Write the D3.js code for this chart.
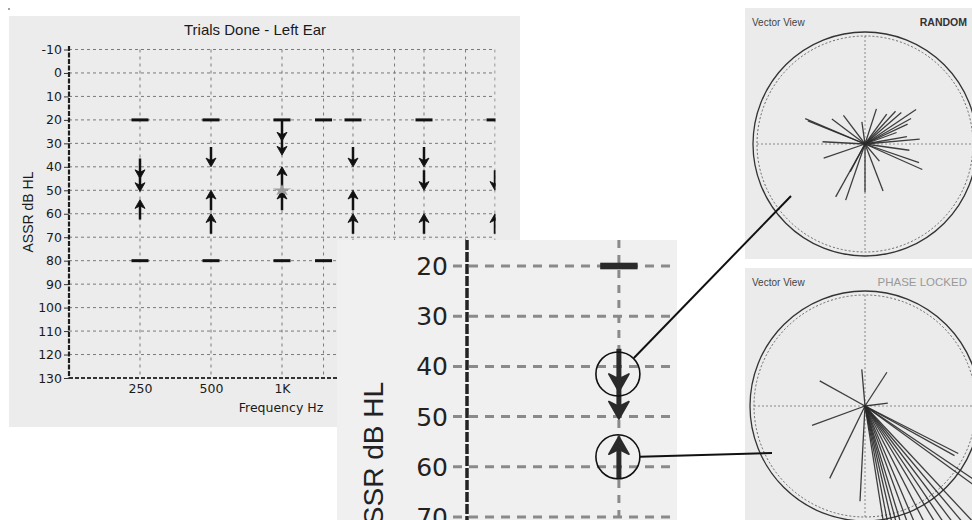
<!DOCTYPE html>
<html><head><meta charset="utf-8">
<script src="https://cdn.jsdelivr.net/npm/d3@7"></script>
<style>body{margin:0;background:#fff}svg{display:block}</style>
</head><body>
<svg id="c" width="972" height="520"></svg>
<script>
// ---------- data ----------
const gridFreqs = [250, 500, 1000, 1500, 2000, 3000, 4000, 6000, 8000];
const tickFreqs = [250, 500, 1000, 2000, 4000, 8000];
const tickLabels = ["250", "500", "1K", "2K", "4K", "8K"];
const yTicks = [-10, 0, 10, 20, 30, 40, 50, 60, 70, 80, 90, 100, 110, 120, 130];
const testedFreqs = [250, 500, 1000, 1500, 2000, 4000, 8000];
const minLevel = 20, maxLevel = 80;
const downFreq  = [250, 250, 500, 1000, 1000, 2000, 4000, 4000, 8000];
const downLevel = [45, 50.5, 40, 29, 35, 40, 40, 50, 50];
const upFreq  = [250, 500, 500, 1000, 1000, 2000, 2000, 4000, 8000];
const upLevel = [54, 50, 60, 40, 50, 50, 60, 60, 60];
const thrFreq = [1000], thrLevel = [50];
const insetTicks = [20, 30, 40, 50, 60, 70];
const randomPhase = [157,158,143,127,98,72,54,47,41,34,29,25,10,5,177,199,241,251,270,291,336,341,352,20,242,310];
const randomMag   = [0.58,0.55,0.37,0.32,0.20,0.33,0.33,0.40,0.43,0.55,0.47,0.42,0.38,0.49,0.38,0.39,0.54,0.53,0.43,0.45,0.56,0.51,0.40,0.30,0.28,0.20];
const lockedPhase = [151,95,57,7,200,244,267,333,331,279,281,283,285,287,290,293,297,301,304,307,310,313,324,326];
const lockedMag   = [0.45,0.32,0.35,0.20,0.49,0.70,0.83,0.91,0.89,1.4,1.4,1.4,1.4,1.4,1.4,1.4,1.4,1.4,1.4,1.4,1.4,1.4,1.4,1.4];

// ---------- setup ----------
const svg = d3.select("#c");
const defs = svg.append("defs");
const tickFont = "DejaVu Sans, Verdana, sans-serif";
const arial = "Liberation Sans, Arial, sans-serif";

function arrow(g, x, yTip, yTail, s, color) {
  const dir = yTip > yTail ? 1 : -1; // 1 = pointing down
  g.append("line").attr("x1", x).attr("x2", x)
    .attr("y1", yTail).attr("y2", yTip - dir * 3 * s)
    .attr("stroke", color).attr("stroke-width", 2 * s);
  g.append("path").attr("d",
    `M${x},${yTip} L${x - 4 * s},${yTip - dir * 7 * s} L${x},${yTip - dir * 5 * s} L${x + 4 * s},${yTip - dir * 7 * s} Z`)
    .attr("fill", color).attr("stroke", color).attr("stroke-width", 0.7 * s).attr("stroke-linejoin", "round");
}

function drawAudiogram(g, x, y, s, opt) {
  const [x0, x1] = opt.xr, [y0, y1] = opt.yr;
  const ticks = opt.ticks;
  g.selectAll(null).data(ticks).join("line")
    .attr("x1", opt.gridStart).attr("x2", x1).attr("y1", d => y(d)).attr("y2", d => y(d))
    .attr("stroke", opt.gridColor).attr("stroke-width", opt.gridW).attr("stroke-dasharray", opt.hDash);
  g.selectAll(null).data(gridFreqs).join("line")
    .attr("x1", d => x(d)).attr("x2", d => x(d)).attr("y1", y0).attr("y2", y1)
    .attr("stroke", opt.gridColor).attr("stroke-width", opt.gridW).attr("stroke-dasharray", opt.vDash);
  [minLevel, maxLevel].forEach(L => {
    g.selectAll(null).data(testedFreqs).join("rect")
      .attr("x", d => x(d) - 8.5 * opt.bs).attr("width", 17 * opt.bs)
      .attr("y", d => y(L) - 1.5 * opt.bs).attr("height", 3 * opt.bs).attr("fill", opt.mark);
  });
  const len = 8.5;
  downFreq.forEach((f, i) => arrow(g, x(f), y(downLevel[i]), y(downLevel[i] - len), s, opt.mark));
  upFreq.forEach((f, i) => arrow(g, x(f), y(upLevel[i]), y(upLevel[i] + len), s, opt.mark));
  thrFreq.forEach((f, i) => {
    g.append("path").attr("d", d3.symbol(d3.symbolStar, 75 * opt.bs * opt.bs)())
      .attr("transform", `translate(${x(f)},${y(thrLevel[i])}) scale(1.2,0.75)`)
      .attr("fill", "#9c9c9c");
  });
}

// ---------- left chart ----------
svg.append("rect").attr("x", 9).attr("y", 16).attr("width", 511).attr("height", 411).attr("fill", "#ececec");
svg.append("circle").attr("cx", 9).attr("cy", 9).attr("r", 0.8).attr("fill", "#333");
const x = d3.scaleLog().domain([125, 8000]).range([69, 495]);
const y = d3.scaleLinear().domain([-10, 130]).range([49.5, 378]);
defs.append("clipPath").attr("id", "plotClip").append("rect")
  .attr("x", 69).attr("y", 40).attr("width", 426.5).attr("height", 345);
const main = svg.append("g").attr("clip-path", "url(#plotClip)");
drawAudiogram(main, x, y, 1.25, {
  xr: [69, 495], yr: [y(-10), y(130)], ticks: yTicks, gridStart: 69, bs: 1,
  gridColor: "#7a7a7a", gridW: 1, hDash: "3,3", vDash: "3,4", mark: "#111"
});
const yAxis = svg.append("g").attr("transform", "translate(69,0)")
  .call(d3.axisLeft(y).tickValues(yTicks).tickFormat(d => String(d)).tickSize(5).tickPadding(2));
yAxis.select(".domain").remove();
yAxis.selectAll("line").attr("stroke", "#333");
yAxis.selectAll("text").attr("font-family", tickFont).attr("font-size", 12.5).attr("fill", "#1a1a1a");
svg.append("line").attr("x1", 69).attr("x2", 69).attr("y1", 46).attr("y2", 378)
  .attr("stroke", "#1e1e1e").attr("stroke-width", 2.2).attr("stroke-dasharray", "5,1.5");
svg.append("line").attr("x1", 69).attr("x2", 495).attr("y1", 378).attr("y2", 378)
  .attr("stroke", "#333").attr("stroke-width", 2).attr("stroke-dasharray", "4,2");
const xAxis = svg.append("g").attr("transform", "translate(0,378)")
  .call(d3.axisBottom(x).tickValues(tickFreqs).tickFormat((d, i) => tickLabels[i]).tickSize(0).tickPadding(6));
xAxis.select(".domain").remove();
xAxis.selectAll("text").attr("font-family", tickFont).attr("font-size", 12.5).attr("fill", "#1a1a1a");
svg.append("text").attr("x", 281).attr("y", 412).attr("text-anchor", "middle")
  .attr("font-family", tickFont).attr("font-size", 12.5).attr("fill", "#1a1a1a").text("Frequency Hz");
svg.append("text").attr("x", 255).attr("y", 35).attr("text-anchor", "middle")
  .attr("font-family", arial).attr("font-size", 15).attr("fill", "#1a1a1a").text("Trials Done - Left Ear");
svg.append("text").attr("transform", "translate(33,212) rotate(-90)").attr("text-anchor", "middle")
  .attr("font-family", arial).attr("font-size", 14).attr("fill", "#1a1a1a").text("ASSR dB HL");

// ---------- inset (magnified 250 Hz column) ----------
const k = 5.02 / ((378 - 49.5) / 140);
const xi = d3.scaleLog().domain([125, 8000]).range([467, 467 + 426 * k]);
const yi = d3.scaleLinear().domain([20, 70]).range([266, 517]);
defs.append("clipPath").attr("id", "insetClip").append("rect")
  .attr("x", 337).attr("y", 240).attr("width", 340).attr("height", 280);
const inset = svg.append("g").attr("clip-path", "url(#insetClip)");
inset.append("rect").attr("x", 337).attr("y", 240).attr("width", 340).attr("height", 280).attr("fill", "#f0f0f0");
const insetPlot = inset.append("g");
drawAudiogram(insetPlot, xi, yi, 2.5, {
  xr: [467, 677], yr: [240, 520], ticks: insetTicks, gridStart: 453, bs: 2.2,
  gridColor: "#8a8a8a", gridW: 3, hDash: "9,7", vDash: "8,7", mark: "#2a2a2a"
});
inset.append("line").attr("x1", 467).attr("x2", 467).attr("y1", 240).attr("y2", 520)
  .attr("stroke", "#222").attr("stroke-width", 3.5).attr("stroke-dasharray", "10,2");
inset.selectAll(null).data(insetTicks).join("text")
  .attr("x", 448).attr("y", d => yi(d)).attr("dy", "0.36em").attr("text-anchor", "end")
  .attr("font-family", tickFont).attr("font-size", 25).attr("fill", "#222").text(d => d);
inset.append("text").attr("transform", "translate(383,382) rotate(-90)").attr("text-anchor", "end")
  .attr("font-family", arial).attr("font-size", 28).attr("fill", "#222").text("ASSR dB HL");

const c1 = [xi(250) - 1, yi(41.5)], c2 = [xi(250) - 1, yi(58)];
[c1, c2].forEach(c => svg.append("circle").attr("cx", c[0]).attr("cy", c[1]).attr("r", 22)
  .attr("fill", "none").attr("stroke", "#111").attr("stroke-width", 1.6));

// ---------- vector views ----------
function vectorView(top, h, cy, R, label, labelColor, phase, mag) {
  const id = "vv" + top;
  defs.append("clipPath").attr("id", id).append("rect")
    .attr("x", 745).attr("y", top).attr("width", 227).attr("height", h);
  const g = svg.append("g").attr("clip-path", `url(#${id})`);
  g.append("rect").attr("x", 745).attr("y", top).attr("width", 227).attr("height", h).attr("fill", "#ebebeb");
  const cx = 865;
  const r = d3.scaleLinear().domain([0, 1]).range([0, R]);
  g.append("line").attr("x1", cx - R + 4).attr("x2", cx + R - 4).attr("y1", cy).attr("y2", cy)
    .attr("stroke", "#888").attr("stroke-dasharray", "2,2");
  g.append("line").attr("x1", cx).attr("x2", cx).attr("y1", cy - R + 4).attr("y2", cy + R - 4)
    .attr("stroke", "#888").attr("stroke-dasharray", "2,2");
  g.append("circle").attr("cx", cx).attr("cy", cy).attr("r", R - 4)
    .attr("fill", "none").attr("stroke", "#666").attr("stroke-dasharray", "2,2");
  g.append("circle").attr("cx", cx).attr("cy", cy).attr("r", R)
    .attr("fill", "none").attr("stroke", "#333").attr("stroke-width", 1.3);
  g.selectAll(null).data(phase).join("line")
    .attr("x1", cx).attr("y1", cy)
    .attr("x2", (d, i) => cx + r(mag[i]) * Math.cos(d * Math.PI / 180))
    .attr("y2", (d, i) => cy - r(mag[i]) * Math.sin(d * Math.PI / 180))
    .attr("stroke", "#2a2a2a").attr("stroke-width", 1.3).attr("stroke-opacity", 0.9);
  g.append("text").attr("x", 752).attr("y", top + 18).attr("font-family", arial).attr("font-size", 10)
    .attr("fill", "#444").text("Vector View");
  g.append("text").attr("x", 967).attr("y", top + 18).attr("text-anchor", "end").attr("font-family", arial)
    .attr("font-size", label === "RANDOM" ? 10.5 : 11.5).attr("font-weight", label === "RANDOM" ? "bold" : "normal")
    .attr("fill", labelColor).text(label);
}
vectorView(8, 251, 144, 112, "RANDOM", "#333", randomPhase, randomMag);
vectorView(268, 252, 406, 115, "PHASE LOCKED", "#999", lockedPhase, lockedMag);

svg.append("line").attr("x1", c1[0] + 16).attr("y1", c1[1] - 16).attr("x2", 791).attr("y2", 196)
  .attr("stroke", "#111").attr("stroke-width", 2);
svg.append("line").attr("x1", c2[0] + 22).attr("y1", c2[1]).attr("x2", 772).attr("y2", 453)
  .attr("stroke", "#111").attr("stroke-width", 2);
</script>
</body></html>
